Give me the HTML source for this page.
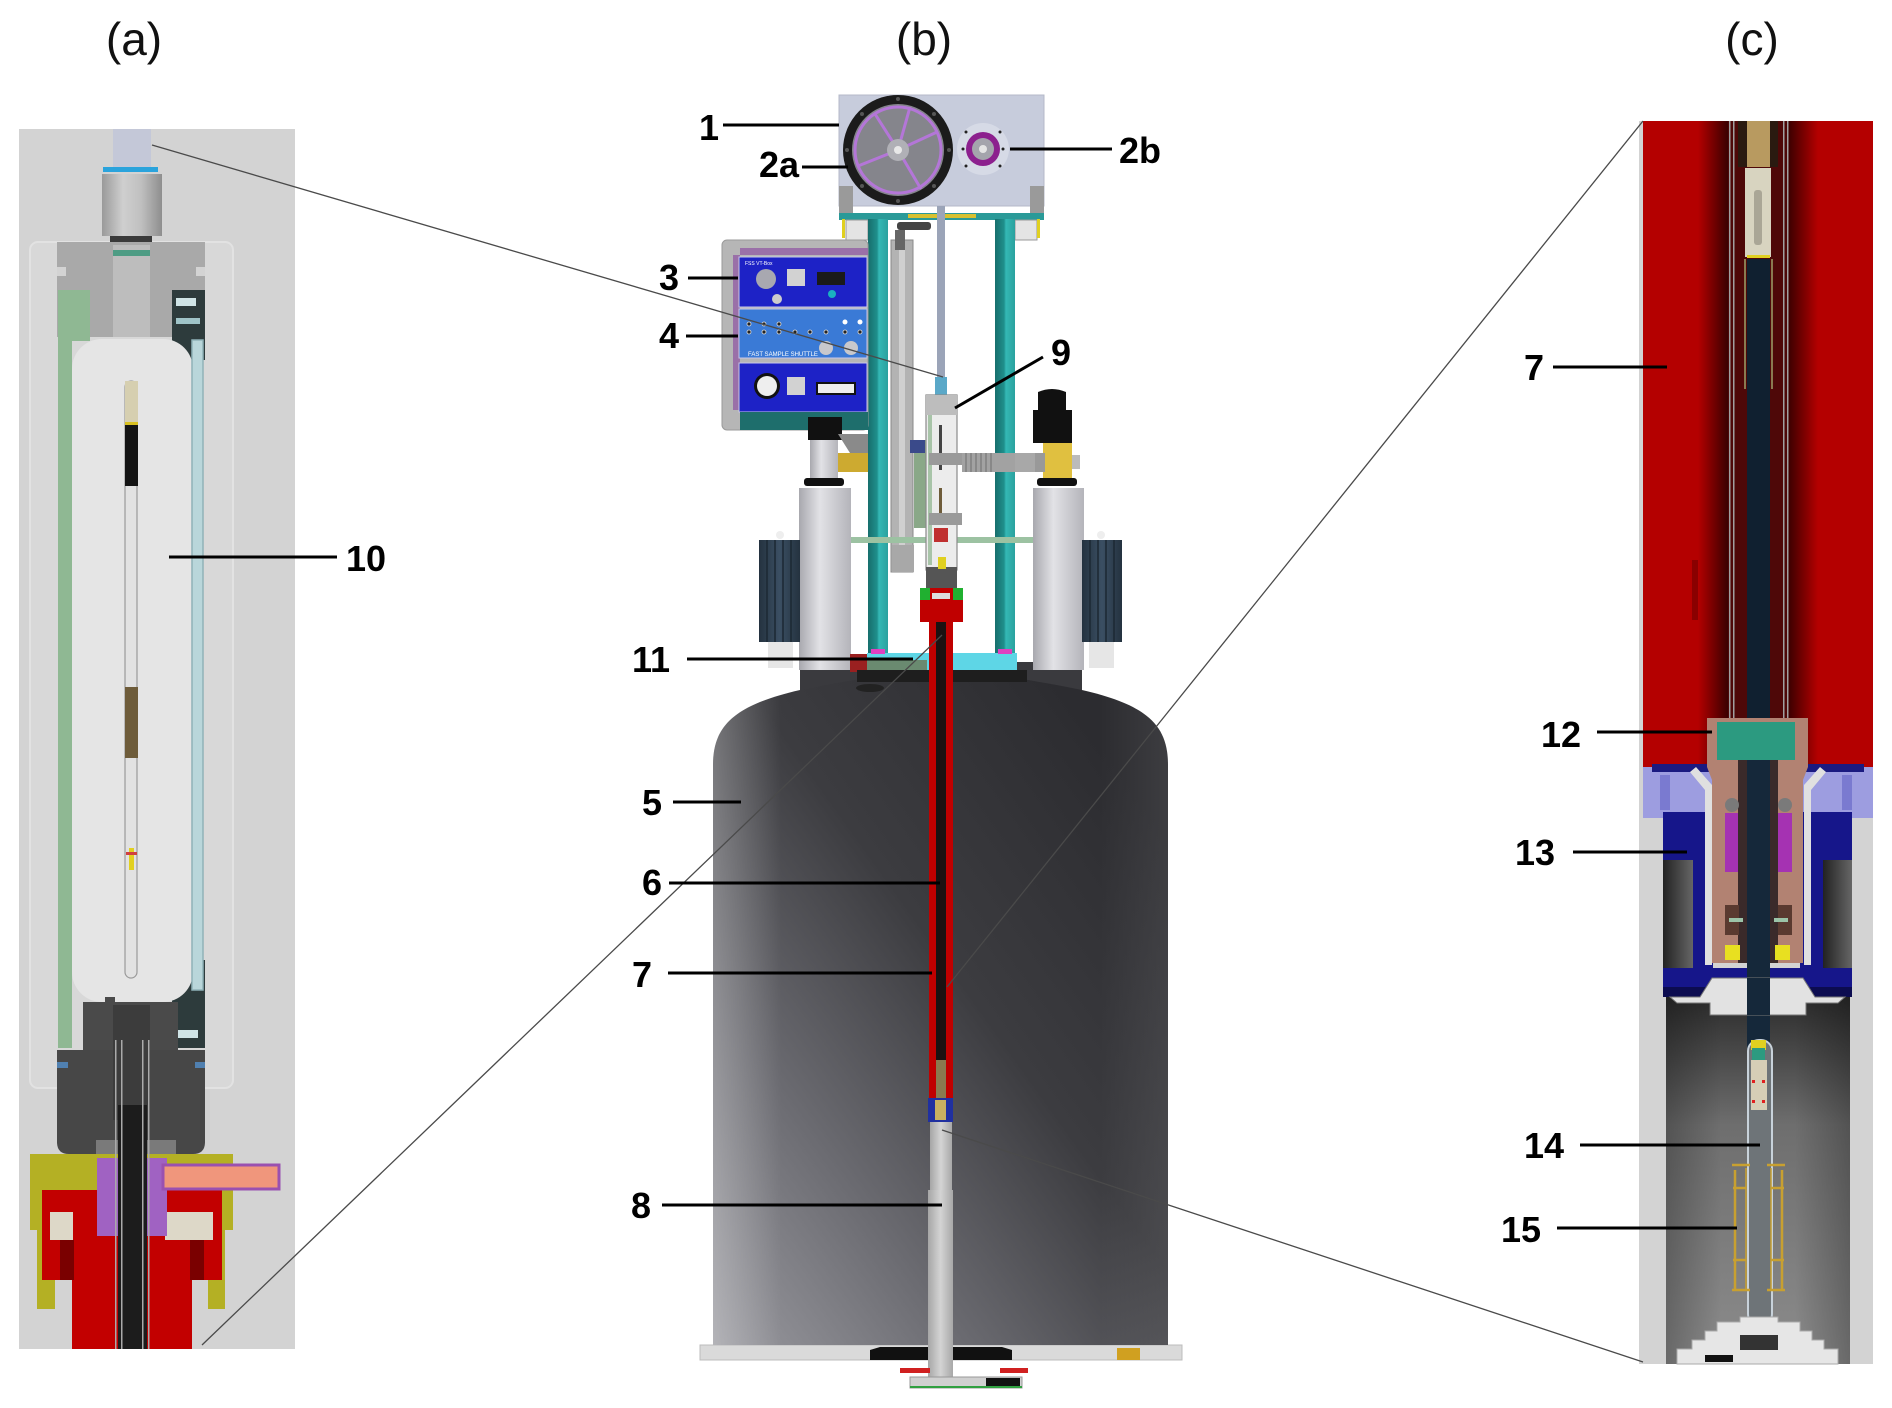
<!DOCTYPE html>
<html><head><meta charset="utf-8"><style>
html,body{margin:0;padding:0;background:#fff}
svg{display:block}
.t{font-family:"Liberation Sans",Arial,sans-serif;font-size:46px;fill:#111}
.l{font-family:"Liberation Sans",Arial,sans-serif;font-size:36px;font-weight:bold;fill:#000}
</style></head><body>
<svg width="1892" height="1408" viewBox="0 0 1892 1408" xmlns="http://www.w3.org/2000/svg">
<defs>
<linearGradient id="dew" x1="0" y1="1" x2="0.85" y2="0.1">
<stop offset="0" stop-color="#9a9aa0"/><stop offset="0.3" stop-color="#6c6c72"/><stop offset="0.62" stop-color="#3c3c40"/><stop offset="1" stop-color="#2c2c30"/></linearGradient>
<linearGradient id="dewL" x1="0" y1="0" x2="1" y2="0">
<stop offset="0" stop-color="#ffffff" stop-opacity="0.25"/><stop offset="0.15" stop-color="#ffffff" stop-opacity="0"/><stop offset="0.85" stop-color="#ffffff" stop-opacity="0"/><stop offset="1" stop-color="#ffffff" stop-opacity="0.08"/></linearGradient>
<linearGradient id="teal" x1="0" y1="0" x2="1" y2="0">
<stop offset="0" stop-color="#176e6c"/><stop offset="0.45" stop-color="#1f8f8c"/><stop offset="0.55" stop-color="#34b8b5"/><stop offset="1" stop-color="#2aa19e"/></linearGradient>
<linearGradient id="cyl" x1="0" y1="0" x2="1" y2="0">
<stop offset="0" stop-color="#a8a8ae"/><stop offset="0.4" stop-color="#e2e2e6"/><stop offset="1" stop-color="#b4b4ba"/></linearGradient>
<linearGradient id="sink" x1="0" y1="0" x2="1" y2="0">
<stop offset="0" stop-color="#24323f"/><stop offset="0.5" stop-color="#3b4f63"/><stop offset="1" stop-color="#24323f"/></linearGradient>
<linearGradient id="probe" x1="0" y1="0" x2="1" y2="0">
<stop offset="0" stop-color="#a6a6a6"/><stop offset="0.5" stop-color="#d4d4d4"/><stop offset="1" stop-color="#a8a8a8"/></linearGradient>
<linearGradient id="rdL" x1="0" y1="0" x2="1" y2="0">
<stop offset="0" stop-color="#b40000"/><stop offset="1" stop-color="#3a0000"/></linearGradient>
<linearGradient id="rdR" x1="0" y1="0" x2="1" y2="0">
<stop offset="0" stop-color="#3a0000"/><stop offset="1" stop-color="#b40000"/></linearGradient>
<linearGradient id="cav" x1="0" y1="0" x2="0" y2="1">
<stop offset="0" stop-color="#2c2c2c"/><stop offset="0.35" stop-color="#6e6e6e"/><stop offset="1" stop-color="#8c8c8c"/></linearGradient>
<linearGradient id="cavS" x1="0" y1="0" x2="1" y2="0">
<stop offset="0" stop-color="#000" stop-opacity="0.25"/><stop offset="0.3" stop-color="#000" stop-opacity="0"/><stop offset="0.7" stop-color="#000" stop-opacity="0"/><stop offset="1" stop-color="#000" stop-opacity="0.25"/></linearGradient>
<linearGradient id="blk" x1="0" y1="0" x2="1" y2="0">
<stop offset="0" stop-color="#222"/><stop offset="1" stop-color="#666"/></linearGradient>
<linearGradient id="hex" x1="0" y1="0" x2="1" y2="0">
<stop offset="0" stop-color="#9a9a9a"/><stop offset="0.35" stop-color="#cfcfcf"/><stop offset="0.65" stop-color="#c0c0c0"/><stop offset="1" stop-color="#8e8e8e"/></linearGradient>
</defs>

<!-- titles -->
<text class="t" x="134" y="55" text-anchor="middle">(a)</text>
<text class="t" x="924" y="55" text-anchor="middle">(b)</text>
<text class="t" x="1752" y="55" text-anchor="middle">(c)</text>

<!-- ================= PANEL A ================= -->
<rect x="19" y="129" width="276" height="1220" fill="#d3d3d3"/>
<rect x="30" y="242" width="203" height="846" rx="8" fill="#d8d8d8" stroke="#e2e2e2" stroke-width="2"/>
<!-- tube top -->
<rect x="113" y="129" width="38" height="38" fill="#c4c8d8"/>
<rect x="103" y="167" width="55" height="5" fill="#2aa3dc"/>
<rect x="102" y="174" width="60" height="62" fill="url(#hex)"/>
<rect x="110" y="236" width="42" height="9" fill="#3a3a3a"/>
<!-- cap -->
<rect x="57" y="242" width="148" height="95" fill="#a9a9a9"/>
<rect x="57" y="267" width="9" height="9" fill="#d3d3d3"/>
<rect x="196" y="267" width="9" height="9" fill="#d3d3d3"/>
<rect x="113" y="245" width="37" height="92" fill="#bdbdbd"/>
<rect x="113" y="250" width="37" height="6" fill="#4e9c84"/>
<!-- green -->
<path d="M58 290 H90 V341 H72 V1048 H58 Z" fill="#8fb893"/>
<!-- right mech -->
<rect x="172" y="290" width="33" height="70" fill="#2d3b3c"/>
<rect x="176" y="298" width="20" height="8" fill="#cfe4e6"/>
<rect x="176" y="318" width="24" height="6" fill="#9fc4c8"/>
<rect x="172" y="960" width="33" height="88" fill="#2d3b3c"/>
<rect x="176" y="1030" width="22" height="8" fill="#cfe4e6"/>
<!-- inner chamber -->
<rect x="72" y="339" width="121" height="663" rx="30" fill="#e5e5e5"/>
<rect x="192" y="340" width="11" height="650" fill="#b9d6da" stroke="#8fb2b8" stroke-width="1.5"/>
<!-- sample tube -->
<rect x="125" y="381" width="12" height="597" rx="6" fill="#e2e2e2" stroke="#9a9a9a" stroke-width="1.2"/>
<rect x="125" y="381" width="13" height="43" fill="#d6cfb0"/>
<rect x="125" y="422" width="13" height="3" fill="#d8c020"/>
<rect x="125" y="425" width="13" height="61" fill="#141414"/>
<rect x="125" y="687" width="13" height="71" fill="#6e5c3a"/>
<rect x="129" y="848" width="5" height="22" fill="#e2d020"/>
<rect x="126" y="852" width="11" height="3" fill="#d04040"/>
<!-- dark block -->
<rect x="83" y="1002" width="95" height="50" fill="#4a4a4a"/>
<rect x="105" y="997" width="10" height="8" fill="#4a4a4a"/>
<path d="M57 1050 H205 V1142 Q205 1154 193 1154 H69 Q57 1154 57 1142 Z" fill="#474747"/>
<rect x="113" y="1005" width="37" height="115" fill="#3c3c3c"/>
<rect x="57" y="1062" width="11" height="6" fill="#5080b0"/>
<rect x="195" y="1062" width="10" height="6" fill="#5080b0"/>
<rect x="96" y="1140" width="80" height="16" fill="#7a7a7a"/>
<!-- olive -->
<path d="M30 1154 H233 V1230 H225 V1309 H208 V1230 H55 V1309 H37 V1230 H30 Z" fill="#b4b024"/>
<!-- red -->
<rect x="42" y="1190" width="180" height="90" fill="#c20000"/>
<rect x="72" y="1280" width="120" height="69" fill="#c20000"/>
<rect x="60" y="1240" width="14" height="40" fill="#7a0000"/>
<rect x="190" y="1240" width="14" height="40" fill="#7a0000"/>
<rect x="50" y="1212" width="23" height="28" fill="#ddd8c8"/>
<rect x="165" y="1212" width="48" height="28" fill="#ddd8c8"/>
<!-- purple & salmon -->
<rect x="97" y="1158" width="21" height="78" fill="#a062c2"/>
<rect x="147" y="1158" width="20" height="78" fill="#a062c2"/>
<rect x="163" y="1165" width="116" height="24" fill="#f0967c" stroke="#9a50b0" stroke-width="3"/>
<!-- shaft -->
<rect x="118" y="1105" width="29" height="244" fill="#1c1c1c"/>
<rect x="115" y="1040" width="1.5" height="309" fill="#aaa"/>
<rect x="121" y="1040" width="1.5" height="309" fill="#aaa"/>
<rect x="142" y="1040" width="1.5" height="309" fill="#aaa"/>
<rect x="148" y="1040" width="1.5" height="309" fill="#aaa"/>

<!-- ================= PANEL B ================= -->
<!-- base plate -->
<rect x="700" y="1345" width="482" height="15" fill="#dadada" stroke="#bcbcbc" stroke-width="1"/>
<path d="M870 1360 V1350 L880 1347 H930 V1360 Z" fill="#111"/>
<path d="M953 1360 V1347 H1002 L1012 1350 V1360 Z" fill="#111"/>
<rect x="1117" y="1348" width="23" height="12" fill="#d0a020"/>
<!-- dewar neck -->
<rect x="800" y="662" width="282" height="34" fill="#3a3a3e"/>
<!-- dewar -->
<path d="M713 1345 L713 765 C713 725 735 705 800 690 C860 678 900 672 941 672 C982 672 1022 678 1082 690 C1147 705 1168 725 1168 765 L1168 1345 Z" fill="url(#dew)"/>
<path d="M713 1345 L713 765 C713 725 735 705 800 690 C860 678 900 672 941 672 C982 672 1022 678 1082 690 C1147 705 1168 725 1168 765 L1168 1345 Z" fill="url(#dewL)"/>
<ellipse cx="870" cy="688" rx="14" ry="4" fill="#222"/>

<!-- top box -->
<rect x="839" y="95" width="205" height="111" fill="#c7ccdc" stroke="#b4b9c8" stroke-width="1"/>
<circle cx="898" cy="150" r="55" fill="#1b1b1b"/>
<circle cx="898" cy="150" r="46" fill="#85858c"/>
<circle cx="898" cy="150" r="43" fill="none" stroke="#b476d8" stroke-width="3"/>
<g stroke="#b476d8" stroke-width="3" fill="none">
<path d="M898 150 L875 114"/><path d="M898 150 L937 132"/><path d="M898 150 L921 189"/><path d="M898 150 L858 166"/><path d="M898 150 L910 107"/>
</g>
<circle cx="898" cy="150" r="11" fill="#b0b0b6"/>
<circle cx="898" cy="150" r="4" fill="#e8e8e8"/>
<g fill="#555"><circle cx="898" cy="99" r="2"/><circle cx="898" cy="201" r="2"/><circle cx="847" cy="150" r="2"/><circle cx="949" cy="150" r="2"/><circle cx="862" cy="114" r="2"/><circle cx="934" cy="186" r="2"/><circle cx="934" cy="114" r="2"/><circle cx="862" cy="186" r="2"/></g>
<circle cx="983" cy="149" r="26" fill="#d6dae6"/>
<circle cx="983" cy="149" r="17" fill="#8c208e"/>
<circle cx="983" cy="149" r="11" fill="#a4a4ac"/>
<circle cx="983" cy="149" r="4" fill="#e4e4e4"/>
<g fill="#222"><circle cx="966" cy="132" r="1.5"/><circle cx="1000" cy="132" r="1.5"/><circle cx="966" cy="166" r="1.5"/><circle cx="1000" cy="166" r="1.5"/><circle cx="963" cy="149" r="1.5"/><circle cx="1003" cy="149" r="1.5"/></g>
<!-- brackets & bar -->
<rect x="839" y="186" width="14" height="27" fill="#9a9a9a"/>
<rect x="1030" y="186" width="14" height="27" fill="#9a9a9a"/>
<rect x="839" y="213" width="205" height="7" fill="#2a9a98"/>
<rect x="908" y="214" width="68" height="4" fill="#d8c030"/>
<rect x="846" y="220" width="22" height="20" fill="#e4e4e4" stroke="#999" stroke-width="1"/>
<rect x="1015" y="220" width="22" height="20" fill="#e4e4e4" stroke="#999" stroke-width="1"/>
<rect x="842" y="219" width="3" height="19" fill="#e0d020"/>
<rect x="1037" y="219" width="3" height="19" fill="#e0d020"/>
<!-- columns -->
<rect x="868" y="219" width="20" height="434" fill="url(#teal)"/>
<rect x="995" y="219" width="20" height="434" fill="url(#teal)"/>
<!-- rail -->
<rect x="891" y="240" width="22" height="332" fill="#b3b3b3" stroke="#8a8a8a" stroke-width="1"/>
<rect x="899" y="250" width="6" height="300" fill="#d0d0d0"/>
<rect x="897" y="222" width="34" height="8" rx="3" fill="#444"/>
<rect x="895" y="230" width="10" height="20" fill="#666"/>
<rect x="892" y="545" width="22" height="27" fill="#a8a8a8"/>
<rect x="914" y="440" width="12" height="88" fill="#8aa888"/>
<rect x="910" y="440" width="15" height="13" fill="#3a4a8a"/>
<!-- center rod -->
<rect x="937" y="206" width="8" height="171" fill="#9ba4b8"/>
<rect x="935" y="377" width="12" height="18" fill="#5aa8c8"/>
<!-- control panel -->
<rect x="722" y="240" width="146" height="190" rx="5" fill="#b6b6b6" stroke="#9a9a9a" stroke-width="1"/>
<rect x="733" y="255" width="7" height="155" fill="#9a70a8"/>
<rect x="740" y="248" width="128" height="7" fill="#9a70a8"/>
<rect x="739" y="257" width="128" height="50" fill="#1d22c6" stroke="#c8c8e8" stroke-width="1"/>
<rect x="739" y="309" width="128" height="49" fill="#3a7ad6" stroke="#c8c8e8" stroke-width="1"/>
<rect x="739" y="363" width="128" height="49" fill="#1d22c6" stroke="#c8c8e8" stroke-width="1"/>
<circle cx="766" cy="279" r="10" fill="#a8a8b0"/>
<rect x="787" y="269" width="18" height="17" fill="#d2d2d2"/>
<rect x="817" y="272" width="28" height="13" fill="#1a1a1a"/>
<circle cx="777" cy="299" r="5" fill="#ccc"/>
<circle cx="832" cy="294" r="4" fill="#1ab0c0"/>
<text x="745" y="265" font-family="Liberation Sans,sans-serif" font-size="5" fill="#fff">FSS VT-Box</text>
<g fill="#222" stroke="#ddd" stroke-width="0.8"><circle cx="749" cy="324" r="2"/><circle cx="764" cy="324" r="2"/><circle cx="779" cy="324" r="2"/><circle cx="749" cy="332" r="2"/><circle cx="764" cy="332" r="2"/><circle cx="779" cy="332" r="2"/><circle cx="795" cy="332" r="2"/><circle cx="810" cy="332" r="2"/><circle cx="826" cy="332" r="2"/><circle cx="845" cy="332" r="2"/><circle cx="860" cy="332" r="2"/></g>
<circle cx="845" cy="322" r="2.5" fill="#fff"/><circle cx="860" cy="322" r="2.5" fill="#fff"/>
<circle cx="826" cy="348" r="7" fill="#c8c8cc"/><circle cx="851" cy="348" r="7" fill="#c8c8cc"/>
<text x="748" y="356" font-family="Liberation Sans,sans-serif" font-size="6" fill="#fff">FAST SAMPLE SHUTTLE</text>
<circle cx="767" cy="386" r="13" fill="#111"/><circle cx="767" cy="386" r="10" fill="#eee"/>
<rect x="787" y="377" width="18" height="18" fill="#d2d2d2"/>
<rect x="817" y="383" width="38" height="11" fill="#eee" stroke="#111" stroke-width="2"/>
<rect x="740" y="412" width="128" height="18" fill="#1e6e6c"/>
<!-- left valve stack -->
<rect x="808" y="417" width="34" height="23" fill="#111"/>
<rect x="810" y="440" width="28" height="38" fill="url(#cyl)"/>
<rect x="804" y="478" width="40" height="8" rx="3" fill="#111"/>
<rect x="838" y="453" width="30" height="19" fill="#cdaa30"/>
<path d="M838 434 L868 434 L868 453 L850 453 Z" fill="#8a8a8a"/>
<!-- right valve -->
<path d="M1038 392 Q1052 386 1066 392 L1066 410 L1072 410 L1072 443 L1033 443 L1033 410 L1038 410 Z" fill="#111"/>
<rect x="1043" y="443" width="29" height="35" fill="#e0c040"/>
<rect x="1072" y="455" width="8" height="14" fill="#bbb"/>
<rect x="1037" y="478" width="40" height="8" rx="3" fill="#111"/>
<!-- bellows & clamps -->
<rect x="962" y="453" width="78" height="19" fill="#a2a2a2"/>
<g stroke="#777" stroke-width="1.2"><path d="M966 453 V472 M971 453 V472 M976 453 V472 M981 453 V472 M986 453 V472 M991 453 V472"/></g>
<rect x="1015" y="453" width="20" height="19" fill="#a8a8a8"/>
<rect x="1035" y="453" width="10" height="19" fill="#999"/>
<!-- big cylinders -->
<rect x="799" y="488" width="52" height="182" fill="url(#cyl)"/>
<rect x="1033" y="488" width="51" height="182" fill="url(#cyl)"/>
<!-- green bar -->
<rect x="851" y="537" width="182" height="6" fill="#9cc2a2"/>
<!-- heat sinks -->
<rect x="759" y="540" width="41" height="102" fill="url(#sink)"/>
<rect x="1082" y="540" width="40" height="102" fill="url(#sink)"/>
<g stroke="#1c2833" stroke-width="1.5"><path d="M767 540 V642 M775 540 V642 M783 540 V642 M791 540 V642 M1090 540 V642 M1098 540 V642 M1106 540 V642 M1114 540 V642"/></g>
<rect x="768" y="642" width="25" height="26" fill="#e6e6e6"/>
<rect x="1089" y="642" width="25" height="26" fill="#e6e6e6"/>
<circle cx="780" cy="535" r="4" fill="#eee"/><circle cx="1101" cy="535" r="4" fill="#eee"/>
<!-- sample shuttle (9) -->
<rect x="926" y="395" width="31" height="175" fill="#ececec" stroke="#8a8a8a" stroke-width="1.2"/>
<rect x="926" y="395" width="31" height="20" fill="#bdbdbd"/>
<rect x="928" y="415" width="4" height="150" fill="#a8c4a8"/>
<rect x="939" y="425" width="3" height="45" fill="#444"/>
<rect x="939" y="488" width="3" height="25" fill="#6e5c3a"/>
<rect x="929" y="453" width="33" height="12" fill="#9a9a9a"/>
<rect x="929" y="513" width="33" height="12" fill="#9a9a9a"/>
<rect x="934" y="528" width="14" height="14" fill="#c03030"/>
<rect x="926" y="567" width="31" height="23" fill="#555"/>
<rect x="938" y="557" width="8" height="12" fill="#e0d020"/>
<!-- top plate -->
<rect x="850" y="654" width="18" height="18" fill="#9a2020"/>
<rect x="867" y="653" width="150" height="17" fill="#5ed6e6"/>
<rect x="867" y="660" width="60" height="10" fill="#6a8a70"/>
<rect x="857" y="670" width="170" height="12" fill="#1e1e1e"/>
<rect x="871" y="649" width="14" height="5" fill="#e040c0"/>
<rect x="998" y="649" width="14" height="5" fill="#e040c0"/>
<!-- red tube -->
<rect x="929" y="597" width="24" height="501" fill="#c00000"/>
<rect x="936" y="597" width="10" height="501" fill="#1b1212"/>
<rect x="920" y="588" width="43" height="34" fill="#c00000"/>
<rect x="920" y="588" width="10" height="12" fill="#20b030"/>
<rect x="953" y="588" width="10" height="12" fill="#20b030"/>
<rect x="932" y="593" width="18" height="6" fill="#ddd"/>
<rect x="936" y="1060" width="10" height="38" fill="#8a7a50"/>
<!-- probe head & probe -->
<rect x="928" y="1098" width="25" height="24" fill="#2030a0"/>
<rect x="935" y="1100" width="11" height="20" fill="#c8b060"/>
<rect x="930" y="1122" width="22" height="68" fill="url(#probe)"/>
<rect x="928" y="1190" width="25" height="193" fill="url(#probe)"/>
<rect x="900" y="1368" width="30" height="5" fill="#d02020"/>
<rect x="1000" y="1368" width="28" height="5" fill="#d02020"/>
<rect x="910" y="1377" width="112" height="11" fill="#d0d0d0" stroke="#999" stroke-width="1"/>
<rect x="986" y="1378" width="34" height="8" fill="#111"/>
<rect x="910" y="1386" width="112" height="2" fill="#30a040"/>

<!-- ================= PANEL C ================= -->
<rect x="1639" y="121" width="234" height="1243" fill="#d3d3d3"/>
<rect x="1643" y="121" width="230" height="646" fill="#b40000"/>
<rect x="1698" y="121" width="30" height="646" fill="url(#rdL)"/>
<rect x="1788" y="121" width="30" height="646" fill="url(#rdR)"/>
<rect x="1728" y="121" width="60" height="646" fill="#4e0808"/>
<g fill="#a0a0a0"><rect x="1729" y="121" width="1.5" height="680"/><rect x="1733" y="121" width="1.5" height="680"/><rect x="1783" y="121" width="1.5" height="680"/><rect x="1787" y="121" width="1.5" height="680"/></g>
<rect x="1738" y="121" width="40" height="46" fill="#2a1a10"/>
<rect x="1747" y="121" width="23" height="46" fill="#b89a60"/>
<rect x="1745" y="168" width="26" height="89" fill="#d8d4c0"/>
<rect x="1754" y="190" width="8" height="55" rx="3" fill="#aaa696"/>
<rect x="1747" y="255" width="23" height="3" fill="#e0d020"/>
<rect x="1747" y="259" width="23" height="800" fill="#102030"/>
<rect x="1744" y="259" width="2" height="130" fill="#8a7a50"/>
<rect x="1771" y="259" width="2" height="130" fill="#8a7a50"/>
<rect x="1692" y="560" width="6" height="60" fill="#8a0000"/>
<!-- lavender band -->
<rect x="1643" y="767" width="230" height="51" fill="#9d9de0"/>
<rect x="1652" y="764" width="212" height="8" fill="#1a1a80"/>
<rect x="1660" y="775" width="10" height="35" fill="#7a7ad0"/>
<rect x="1842" y="775" width="10" height="35" fill="#7a7ad0"/>
<!-- cavity below -->
<rect x="1666" y="997" width="184" height="367" fill="url(#cav)"/>
<rect x="1666" y="997" width="184" height="367" fill="url(#cavS)"/>
<!-- blue block -->
<rect x="1663" y="812" width="189" height="48" fill="#16168a"/>
<rect x="1663" y="860" width="30" height="108" fill="url(#blk)"/>
<rect x="1823" y="860" width="29" height="108" fill="url(#blk)"/>
<rect x="1693" y="860" width="20" height="108" fill="#16168a"/>
<rect x="1800" y="860" width="23" height="108" fill="#16168a"/>
<rect x="1663" y="968" width="189" height="29" fill="#16168a"/>
<rect x="1663" y="987" width="189" height="10" fill="#0c0c50"/>
<!-- sleeve -->
<path d="M1696 767 L1712 785 L1712 965 L1705 965 L1705 790 L1690 772 Z" fill="#e0e0e0"/>
<path d="M1820 767 L1804 785 L1804 965 L1811 965 L1811 790 L1826 772 Z" fill="#e0e0e0"/>
<!-- copper piece -->
<path d="M1707 718 H1808 V767 L1803 780 V963 H1712 V780 L1707 767 Z" fill="#b28272"/>
<rect x="1717" y="722" width="78" height="38" fill="#2c9a80"/>
<rect x="1738" y="760" width="40" height="203" fill="#3a2a2a"/>
<circle cx="1732" cy="805" r="7" fill="#7a7a7a"/><circle cx="1785" cy="805" r="7" fill="#7a7a7a"/>
<rect x="1725" y="813" width="13" height="59" fill="#a532b2"/>
<rect x="1778" y="813" width="14" height="59" fill="#a532b2"/>
<rect x="1725" y="905" width="14" height="30" fill="#5a3a30"/>
<rect x="1778" y="905" width="14" height="30" fill="#5a3a30"/>
<rect x="1729" y="918" width="14" height="4" fill="#9cc4a8"/>
<rect x="1774" y="918" width="14" height="4" fill="#9cc4a8"/>
<rect x="1725" y="945" width="15" height="15" fill="#e8e020"/>
<rect x="1775" y="945" width="15" height="15" fill="#e8e020"/>
<rect x="1747" y="760" width="23" height="300" fill="#15283a"/>
<!-- white piece -->
<path d="M1670 997 H1700 L1712 978 H1803 L1815 997 H1845 L1838 1003 H1806 V1015 H1710 V1003 H1677 Z" fill="#e2e2e2" stroke="#777" stroke-width="1"/>
<rect x="1747" y="978" width="23" height="37" fill="#15283a"/>
<!-- tube 14 -->
<rect x="1748" y="1040" width="24" height="285" rx="11" fill="#6e7478" stroke="#c8d2da" stroke-width="2"/>
<rect x="1751" y="1040" width="15" height="10" fill="#e0d020"/>
<rect x="1752" y="1048" width="13" height="12" fill="#2c9a80"/>
<rect x="1751" y="1060" width="16" height="50" fill="#d6ceb6"/>
<g fill="#e02020"><rect x="1752" y="1080" width="3" height="3"/><rect x="1762" y="1080" width="3" height="3"/><rect x="1752" y="1100" width="3" height="3"/><rect x="1762" y="1100" width="3" height="3"/></g>
<!-- coil 15 -->
<g fill="none" stroke="#c8a030" stroke-width="2.5">
<path d="M1735 1170 V1290 M1782 1170 V1290 M1732 1165 H1750 M1767 1165 H1785 M1732 1290 H1750 M1767 1290 H1785 M1733 1260 H1746 M1771 1260 H1784 M1733 1188 H1746 M1771 1188 H1784"/>
<path d="M1746 1168 V1290 M1771 1168 V1290" stroke-width="1.5"/>
</g>
<!-- base -->
<path d="M1677 1364 V1349 H1692 V1340 H1705 V1331 H1717 V1322 H1740 V1317 H1778 V1322 H1800 V1331 H1812 V1340 H1824 V1349 H1838 V1364 Z" fill="#e6e6e6" stroke="#aaa" stroke-width="1"/>
<rect x="1740" y="1335" width="38" height="15" fill="#333"/>
<rect x="1705" y="1355" width="28" height="7" fill="#111"/>

<!-- ================= CONNECTOR LINES ================= -->
<g stroke="#4a4a4a" stroke-width="1.3" fill="none">
<path d="M152 145 L943 377"/>
<path d="M202 1345 L942 635"/>
<path d="M1643 121 L947 987"/>
<path d="M1643 1362 L942 1130"/>
</g>

<!-- ================= LEADER LINES ================= -->
<g stroke="#000" stroke-width="3" fill="none">
<path d="M169 557 H337"/>
<path d="M723 125 H839"/>
<path d="M802 167 H848"/>
<path d="M1010 149 H1112"/>
<path d="M688 278 H738"/>
<path d="M686 336 H738"/>
<path d="M1043 357 L955 408"/>
<path d="M687 659 H913"/>
<path d="M673 802 H741"/>
<path d="M669 883 H940"/>
<path d="M668 973 H932"/>
<path d="M662 1205 H942"/>
<path d="M1553 367 H1667"/>
<path d="M1597 732 H1712"/>
<path d="M1573 852 H1687"/>
<path d="M1580 1145 H1760"/>
<path d="M1557 1228 H1737"/>
</g>

<!-- ================= LABELS ================= -->
<text class="l" x="366" y="571" text-anchor="middle">10</text>
<text class="l" x="709" y="140" text-anchor="middle">1</text>
<text class="l" x="779" y="177" text-anchor="middle">2a</text>
<text class="l" x="1140" y="163" text-anchor="middle">2b</text>
<text class="l" x="669" y="290" text-anchor="middle">3</text>
<text class="l" x="669" y="348" text-anchor="middle">4</text>
<text class="l" x="1061" y="365" text-anchor="middle">9</text>
<text class="l" x="651" y="672" text-anchor="middle">11</text>
<text class="l" x="652" y="815" text-anchor="middle">5</text>
<text class="l" x="652" y="895" text-anchor="middle">6</text>
<text class="l" x="642" y="987" text-anchor="middle">7</text>
<text class="l" x="641" y="1218" text-anchor="middle">8</text>
<text class="l" x="1534" y="380" text-anchor="middle">7</text>
<text class="l" x="1561" y="747" text-anchor="middle">12</text>
<text class="l" x="1535" y="865" text-anchor="middle">13</text>
<text class="l" x="1544" y="1158" text-anchor="middle">14</text>
<text class="l" x="1521" y="1242" text-anchor="middle">15</text>
</svg>
</body></html>
